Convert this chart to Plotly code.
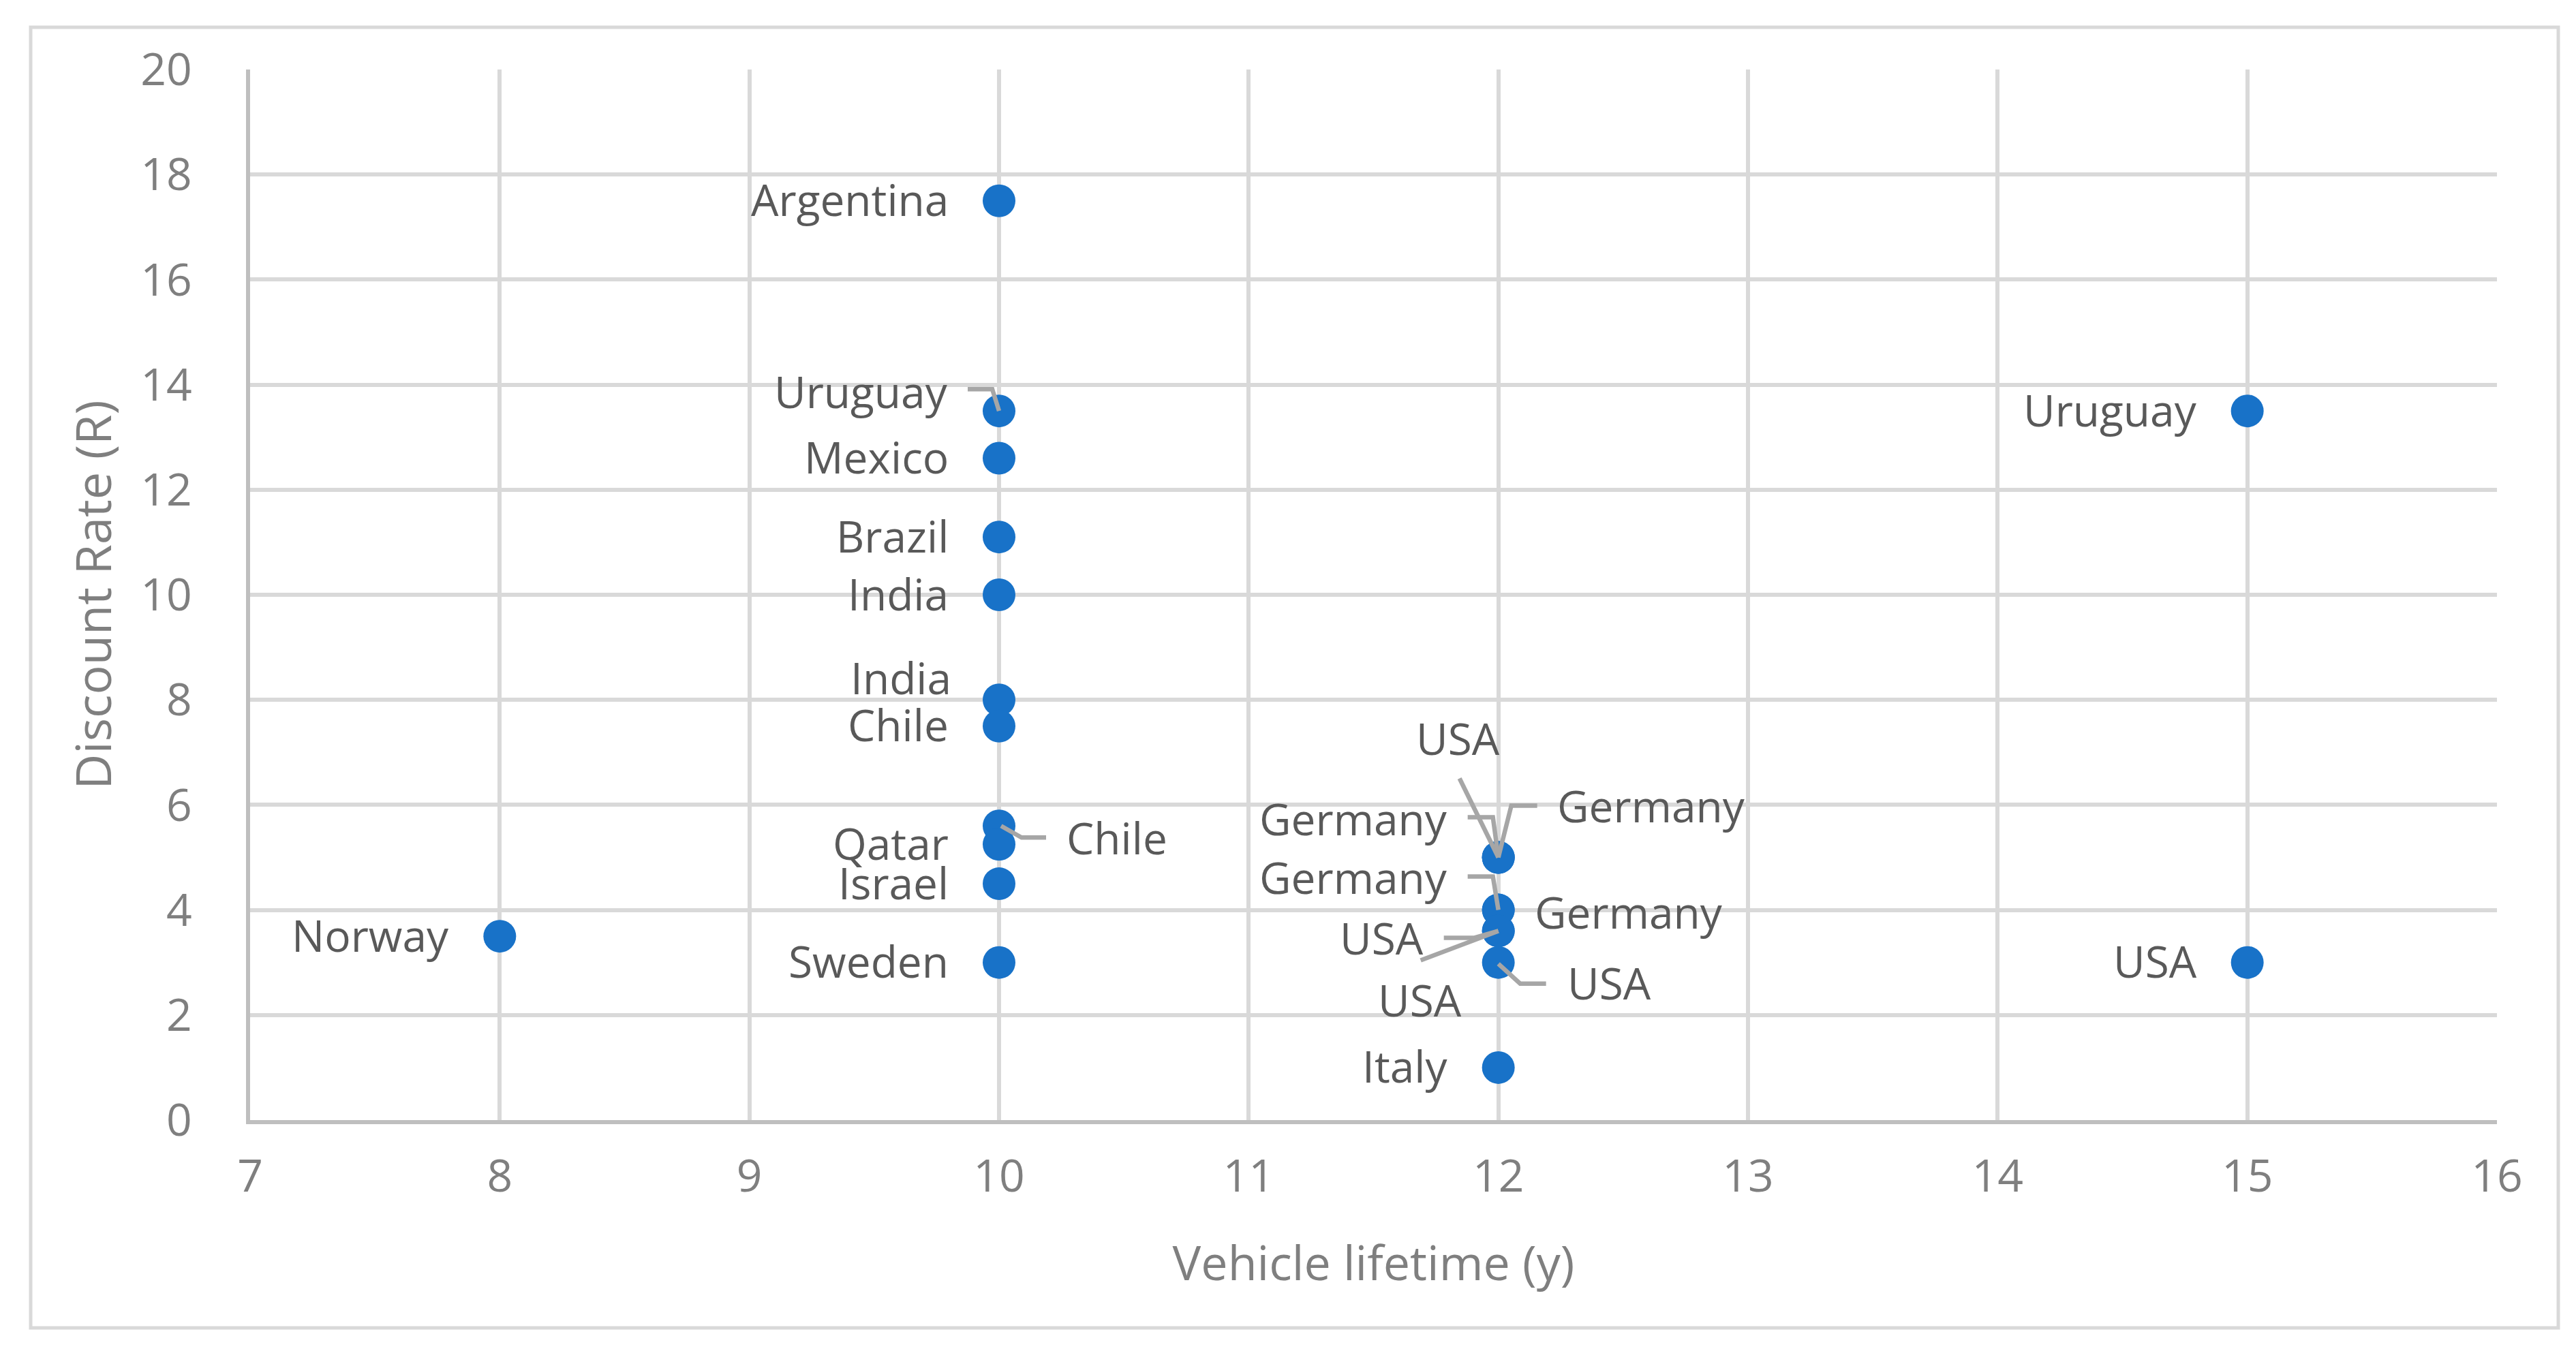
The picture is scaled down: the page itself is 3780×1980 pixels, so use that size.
import plotly.graph_objects as go

# ---------------- data ----------------
countries = ["Norway", "Argentina", "Uruguay", "Mexico", "Brazil", "India", "India", "Chile",
             "Chile", "Qatar", "Israel", "Sweden", "USA", "Germany", "Germany", "Germany",
             "Germany", "USA", "USA", "USA", "Italy", "USA", "Uruguay"]
lifetime_y = [8, 10, 10, 10, 10, 10, 10, 10,
              10, 10, 10, 10, 12, 12, 12, 12,
              12, 12, 12, 12, 12, 15, 15]
discount_rate = [3.5, 17.5, 13.5, 12.6, 11.1, 10.0, 8.0, 7.5,
                 5.6, 5.25, 4.5, 3.0, 5.0, 5.0, 5.0, 4.0,
                 4.0, 3.6, 3.6, 3.0, 1.0, 3.0, 13.5]
x_ticks = [7, 8, 9, 10, 11, 12, 13, 14, 15, 16]
y_ticks = [0, 2, 4, 6, 8, 10, 12, 14, 16, 18, 20]

# ---------------- label layout (pixel offsets from the point) ----------------
# (dx, dy, xanchor, leader path in pixels relative to the point, y up)
label_layout = [
    (-72, 0, "right", None),
    (-72, 0, "right", None),
    (-73, 27, "right", "M -46 32 L -10 32 L 0 0"),
    (-72, 0, "right", None),
    (-72, 0, "right", None),
    (-72, 0, "right", None),
    (-68, 31, "right", None),
    (-72, 0, "right", None),
    (97, -19, "left", "M 3 0 L 33 -17 L 69 -17"),
    (-72, 0, "right", None),
    (-72, 0, "right", None),
    (-72, 0, "right", None),
    (-59, 173, "center", "M -57 116 L 0 0"),
    (-73, 55, "right", "M -45 59 L -8 59 L 0 0"),
    (84, 74, "left", "M 57 76 L 19 76 L 0 0"),
    (-73, 46, "right", "M -45 49 L -8 49 L 0 0"),
    (51, -5, "left", None),
    (-108, -12, "right", "M -80 -10 L -35 -10 L 0 0"),
    (-115, -103, "center", "M -114 -43 L 0 0"),
    (99, -32, "left", "M 70 -31 L 32 -31 L 0 -2"),
    (-73, 0, "right", None),
    (-72, 0, "right", None),
    (-72, 0, "right", None),
]

W, H = 3780, 1980
ML, MR, MT, MB = 359, 124, 94, 344
PW, PH = W - ML - MR, H - MT - MB

FONT = "Open Sans"
LABEL_COLOR = "#595959"
AXIS_TXT = "#7f7f7f"
GRID = "#d9d9d9"
CAPS_FIX = 2  # shift so that cap height centre sits on the point

fig = go.Figure()
fig.add_trace(go.Scatter(
    x=lifetime_y, y=discount_rate, mode="markers",
    marker=dict(size=48, color="#1872c8", line=dict(width=0)),
    hoverinfo="skip", showlegend=False,
))

annotations = []
shapes = []
for name, xv, yv, (dx, dy, xa, path) in zip(countries, lifetime_y, discount_rate, label_layout):
    annotations.append(dict(
        x=xv, y=yv, xref="x", yref="y", text=name, showarrow=False,
        xanchor=xa, yanchor="middle", xshift=dx, yshift=dy + CAPS_FIX,
        font=dict(family=FONT, size=64, color=LABEL_COLOR),
    ))
    if path:
        shapes.append(dict(
            type="path", xref="x", yref="y", xsizemode="pixel", ysizemode="pixel",
            xanchor=xv, yanchor=yv, path=path, layer="above",
            line=dict(color="#a6a6a6", width=6.5),
        ))

# outer chart border
bx0, by0, bx1, by1 = 37, 32, 3746, 1941
shapes.append(dict(
    type="rect", xref="paper", yref="paper",
    x0=(bx0 - ML) / PW, x1=(bx1 - ML) / PW,
    y0=(H - MB - by1) / PH, y1=(H - MB - by0) / PH,
    line=dict(color=GRID, width=5), fillcolor="rgba(0,0,0,0)", layer="below",
))

fig.update_layout(
    width=W, height=H,
    margin=dict(l=ML, r=MR, t=MT, b=MB),
    paper_bgcolor="white", plot_bgcolor="white",
    annotations=annotations, shapes=shapes,
    xaxis=dict(
        range=[7, 16], tickvals=x_ticks, ticktext=[str(v) for v in x_ticks],
        showgrid=True, gridcolor=GRID, gridwidth=6,
        showline=True, linecolor="#bfbfbf", linewidth=6,
        zeroline=False, ticks="", ticklabelstandoff=20,
        tickfont=dict(family=FONT, size=66, color=AXIS_TXT),
        title=dict(text="Vehicle lifetime (y)", standoff=65,
                   font=dict(family=FONT, size=70, color=AXIS_TXT)),
    ),
    yaxis=dict(
        range=[0, 20], tickvals=y_ticks, ticktext=[str(v) for v in y_ticks],
        showgrid=True, gridcolor=GRID, gridwidth=6,
        showline=True, linecolor="#bfbfbf", linewidth=6,
        zeroline=False, ticks="", ticklabelstandoff=66,
        tickfont=dict(family=FONT, size=66, color=AXIS_TXT),
        title=dict(text="Discount Rate (R)", standoff=21,
                   font=dict(family=FONT, size=72, color=AXIS_TXT)),
    ),
)

fig.write_html("out.html")
